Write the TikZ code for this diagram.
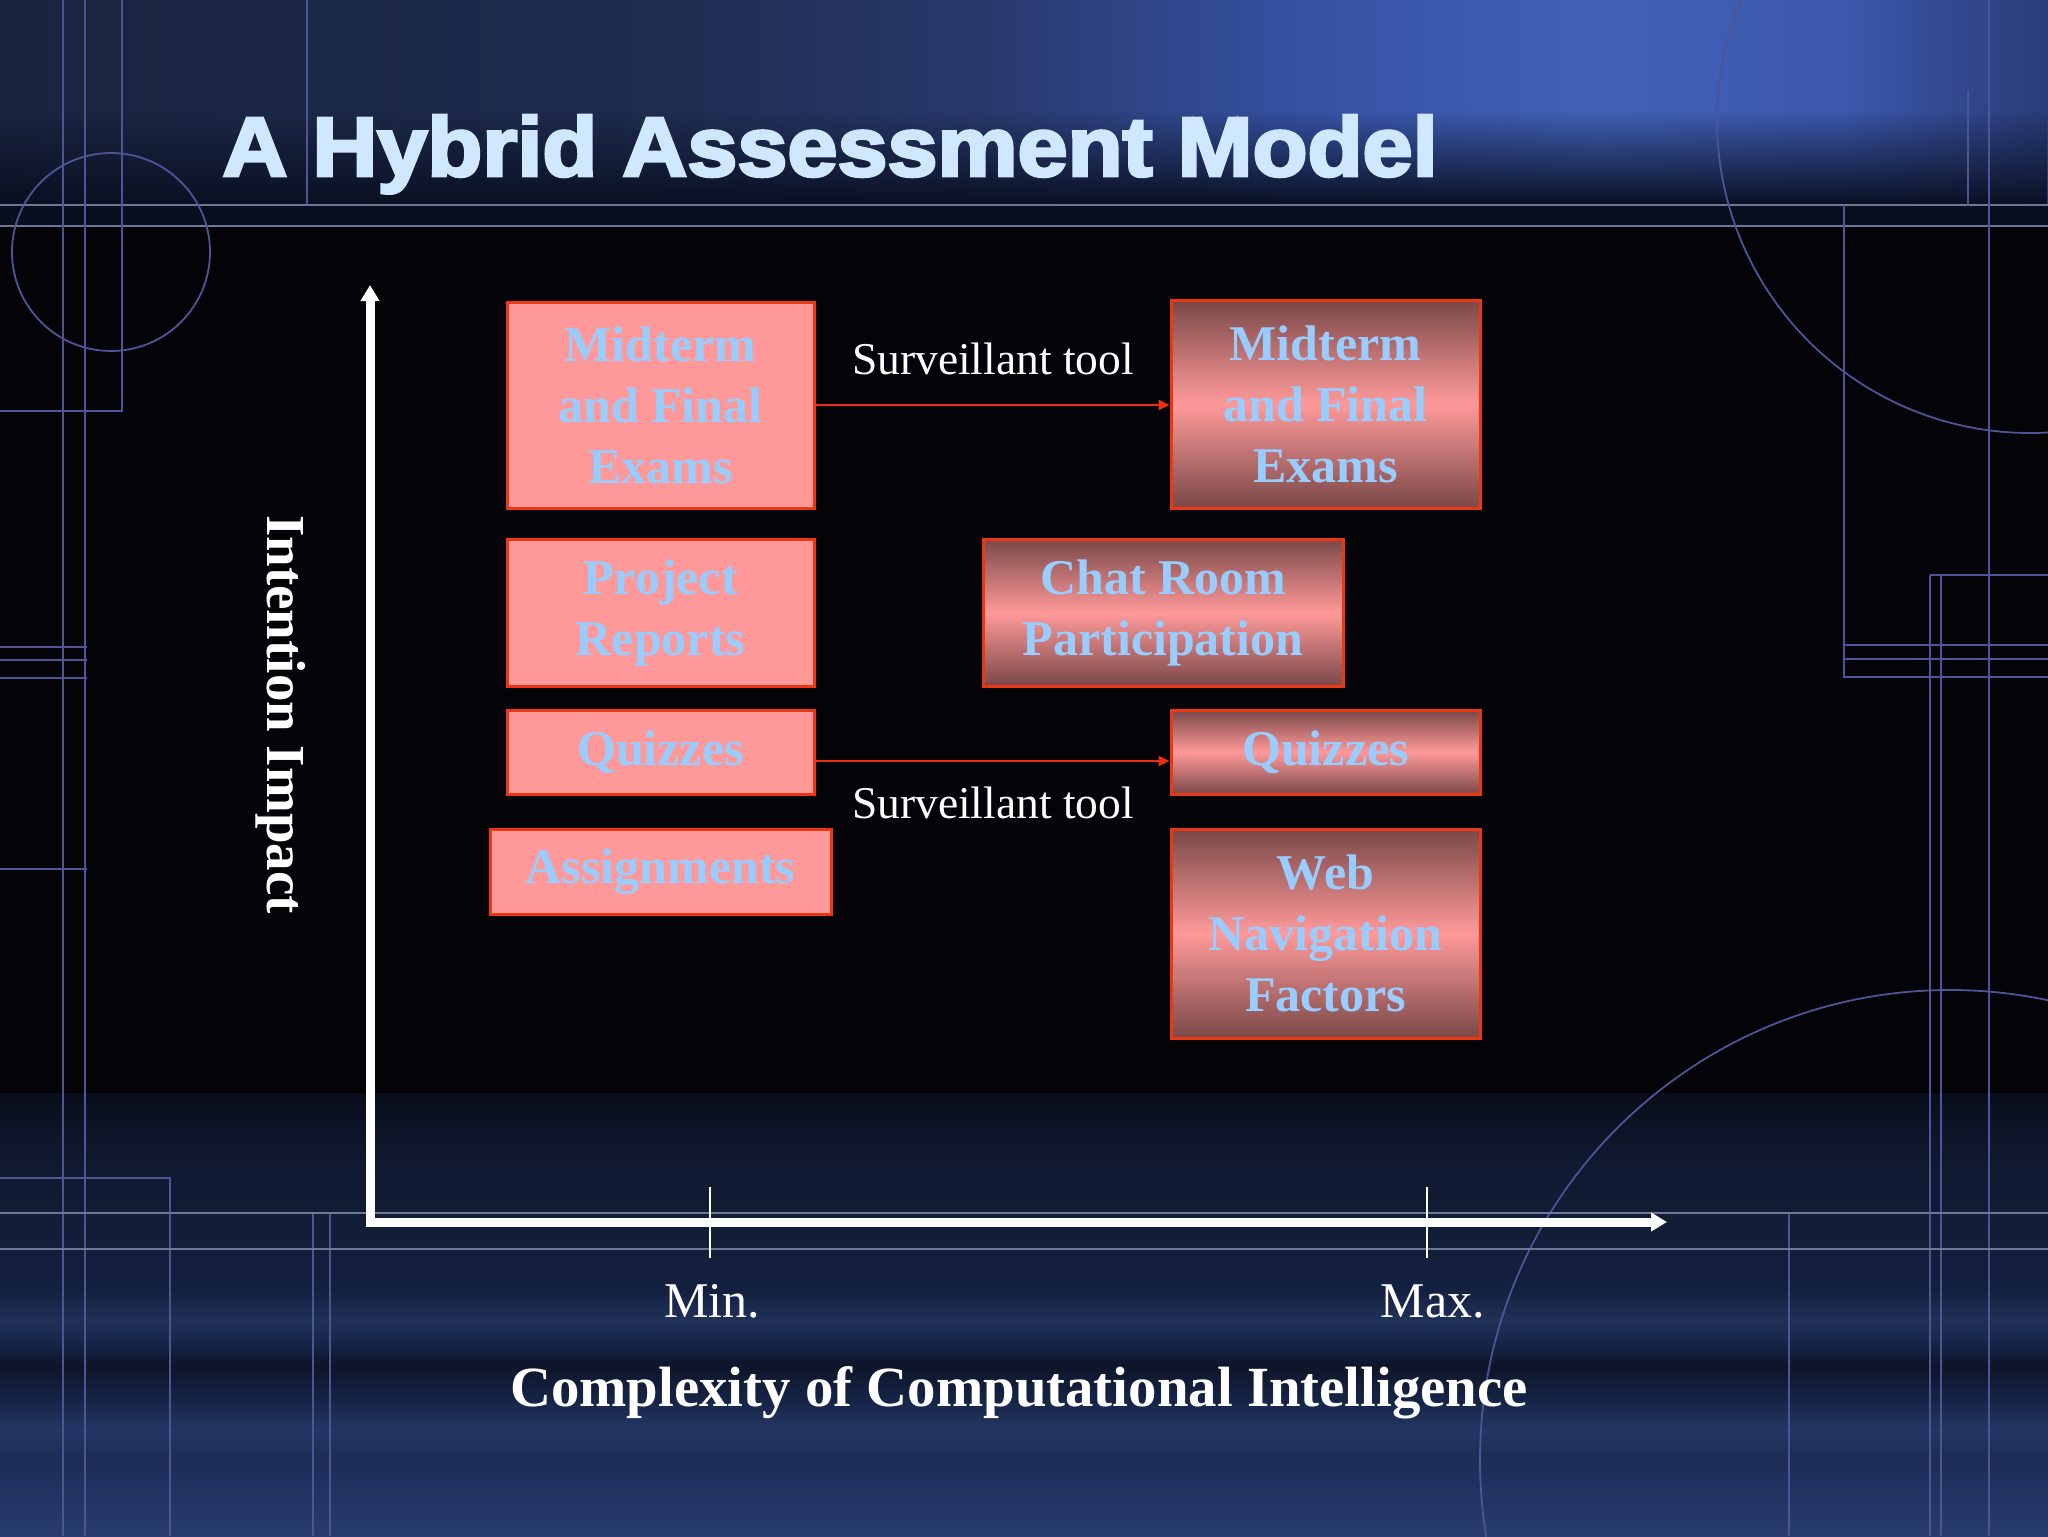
\documentclass[tikz,border=0pt]{standalone}
\usepackage{fontspec}
\setmainfont{Liberation Serif}
\newfontfamily\titlefont[FakeBold=3.5]{Liberation Sans Bold}
\usetikzlibrary{arrows.meta,fadings}

\definecolor{boxtext}{RGB}{153,204,255}
\definecolor{boxfill}{RGB}{255,153,153}
\definecolor{boxdark}{RGB}{122,72,72}
\definecolor{boxedge}{RGB}{235,55,20}
\definecolor{arrowred}{RGB}{235,45,20}
\definecolor{deco}{RGB}{78,84,150}
\definecolor{decolight}{RGB}{112,118,150}
\definecolor{titlecol}{RGB}{208,232,255}
\definecolor{bgblack}{RGB}{3,3,8}
\definecolor{bandfade}{RGB}{10,16,34}
\definecolor{bandmid}{RGB}{9,14,30}
\definecolor{tbA}{RGB}{26,36,64}
\definecolor{tbB}{RGB}{30,43,77}
\definecolor{tbC}{RGB}{40,57,108}
\definecolor{tbD}{RGB}{54,82,164}
\definecolor{tbE}{RGB}{66,98,184}
\definecolor{tbF}{RGB}{60,88,172}
\definecolor{tbG}{RGB}{42,60,120}
\definecolor{bb1}{RGB}{40,62,110}
\definecolor{bb2}{RGB}{34,53,100}
\definecolor{bb3}{RGB}{28,45,86}
\definecolor{bb4}{RGB}{36,55,100}
\definecolor{bb5}{RGB}{22,36,70}
\definecolor{bb6}{RGB}{14,21,42}
\definecolor{bb7}{RGB}{22,36,72}
\definecolor{bb8}{RGB}{32,49,88}
\definecolor{bb9}{RGB}{20,32,64}
\definecolor{bb10}{RGB}{18,29,55}
\definecolor{bb11}{RGB}{15,24,46}
\definecolor{bb12}{RGB}{9,13,26}

\pgfdeclarehorizontalshading{topband}{100bp}{color(0bp)=(tbA); color(25bp)=(tbA); color(40bp)=(tbB); color(49bp)=(tbC); color(57bp)=(tbD); color(64bp)=(tbE); color(70bp)=(tbF); color(75bp)=(tbG); color(100bp)=(tbG)}
\pgfdeclareverticalshading{bottomband}{100bp}{color(0bp)=(bb1); color(25bp)=(bb1); color(29bp)=(bb2); color(33.6bp)=(bb3); color(37bp)=(bb4); color(40.3bp)=(bb5); color(44.3bp)=(bb6); color(46.6bp)=(bb7); color(49.4bp)=(bb8); color(52.8bp)=(bb9); color(60bp)=(bb10); color(68.6bp)=(bb11); color(75bp)=(bb12); color(100bp)=(bb12)}
\tikzfading[name=fadedown, top color=transparent!100, bottom color=transparent!0]

\tikzset{
  decoline/.style={draw=deco, line width=0.9pt},
  brightline/.style={draw=decolight, line width=1.3pt},
  lbox/.style={draw=boxedge, line width=1.5pt, fill=boxfill, inner sep=0pt,
    align=center, text=boxtext, font=\bfseries\fontsize{25}{30.5}\selectfont},
  rbox/.style={draw=boxedge, line width=1.5pt, top color=boxdark, bottom color=boxdark,
    middle color=boxfill, inner sep=0pt, align=center, text=boxtext,
    font=\bfseries\fontsize{25}{30.5}\selectfont},
  redarrow/.style={draw=arrowred, line width=1.2pt, -{Triangle[length=5.5pt,width=5pt]}},
  axisline/.style={draw=white, line width=4.5pt, line join=miter,
    {Triangle[length=8pt,width=9pt]}-{Triangle[length=8pt,width=9pt]}},
  tickline/.style={draw=white, line width=1pt},
  survlabel/.style={text=white, inner sep=0pt, font=\fontsize{22.75}{27}\selectfont},
  ticklabel/.style={text=white, inner sep=0pt, font=\fontsize{25}{30}\selectfont},
  axislabel/.style={text=white, inner sep=0pt, font=\bfseries\fontsize{28.4}{34}\selectfont},
}

\begin{document}
\begin{tikzpicture}[x=0.5pt,y=-0.5pt]
\useasboundingbox (0,0) rectangle (2048,1536);
\begin{scope}
\clip (0,0) rectangle (2048,1536);
\fill[bgblack] (0,0) rectangle (2048,1536);
\shade[shading=topband] (0,0) rectangle (2048,206);
\fill[bandfade, path fading=fadedown] (0,110) rectangle (2048,206);
\fill[bandmid] (0,205) rectangle (2048,226);
\shade[shading=bottomband] (0,1093) rectangle (2048,1536);
% decorative frame lines
\draw[brightline] (0,205) -- (2048,205);
\draw[brightline] (0,226) -- (2048,226);
\draw[decoline] (63,0) -- (63,1536);
\draw[decoline] (85,0) -- (85,1536);
\draw[decoline] (122,0) -- (122,411) -- (0,411);
\draw[decoline] (307,0) -- (307,205);
\draw[decoline] (111,252) circle[radius=49.5pt];
\draw[decoline] (0,647) -- (87,647);
\draw[decoline] (0,660) -- (87,660);
\draw[decoline] (0,678) -- (87,678);
\draw[decoline] (0,869) -- (87,869);
\draw[decoline] (0,1178) -- (170,1178) -- (170,1536);
\draw[decoline] (313,1213) -- (313,1536);
\draw[decoline] (330,1213) -- (330,1536);
\draw[decoline] (1789,1213) -- (1789,1536);
\draw[decoline] (1844,205) -- (1844,677) -- (2048,677);
\draw[decoline] (1844,645) -- (2048,645);
\draw[decoline] (1844,659) -- (2048,659);
\draw[decoline] (1930,575) -- (1930,1536);
\draw[decoline] (1941,575) -- (1941,1536);
\draw[decoline] (1930,575) -- (2048,575);
\draw[decoline] (1989,0) -- (1989,1536);
\draw[decoline] (1968,90) -- (1968,205);
\draw[decoline] (2030,120) circle[radius=156.5pt];
\draw[decoline] (1950,1460) circle[radius=235pt];
\draw[brightline] (0,1213) -- (2048,1213);
\draw[brightline] (0,1249) -- (2048,1249);
\end{scope}

% title
\node[anchor=base west, inner sep=0pt, text=titlecol] (title) at (222,176)
  {\resizebox{607.5pt}{30.5pt}{\titlefont A Hybrid Assessment Model}};

% axes
\coordinate (ytop) at (370,285);
\coordinate (origin) at (370,1222);
\coordinate (xend) at (1667,1222);
\draw[axisline] (ytop) -- (origin) -- (xend);
\coordinate (mintop) at (710,1187);
\coordinate (minbot) at (710,1258);
\coordinate (maxtop) at (1427,1187);
\coordinate (maxbot) at (1427,1258);
\draw[tickline] (mintop) -- (minbot);
\draw[tickline] (maxtop) -- (maxbot);

\node[ticklabel, anchor=base] (minlab) at (712,1317) {Min.};
\node[ticklabel, anchor=base] (maxlab) at (1433,1317) {Max.};
\node[axislabel, anchor=base] (xlab) at (1019,1406) {Complexity of Computational Intelligence};
\node[axislabel, anchor=base, rotate=-90, font=\bfseries\fontsize{27.5}{33}\selectfont] (ylab) at (267,714.5) {Intention Impact};

% boxes
\node[lbox, minimum width=153.5pt, minimum height=103pt] (lm) at (660.5,405) {Midterm\\and Final\\Exams};
\node[lbox, minimum width=153.5pt, minimum height=73.5pt] (pr) at (660.5,612.5) {Project\\Reports};
\node[lbox, minimum width=153.5pt, minimum height=42pt] (ql) at (660.5,752) {Quizzes};
\node[lbox, minimum width=170.5pt, minimum height=42.5pt] (asg) at (660.5,871.5) {Assignments};

\node[rbox, minimum width=154.5pt, minimum height=104pt] (rm) at (1325.5,404) {Midterm\\and Final\\Exams};
\node[rbox, minimum width=180pt, minimum height=73.5pt] (cr) at (1163,612.5) {Chat Room\\Participation};
\node[rbox, minimum width=154.5pt, minimum height=42pt] (qr) at (1325.5,752) {Quizzes};
\node[rbox, minimum width=154.5pt, minimum height=104.5pt] (wn) at (1325.5,933.5) {Web\\Navigation\\Factors};

% connectors
\draw[redarrow] (lm.east) -- (lm.east -| rm.west);
\draw[redarrow] ([yshift=-4.5pt]ql.east) -- ([yshift=-4.5pt]ql.east -| qr.west);

\node[survlabel, anchor=base] (s1) at (993,374) {Surveillant tool};
\node[survlabel, anchor=base] (s2) at (993,818) {Surveillant tool};
\end{tikzpicture}
\end{document}
